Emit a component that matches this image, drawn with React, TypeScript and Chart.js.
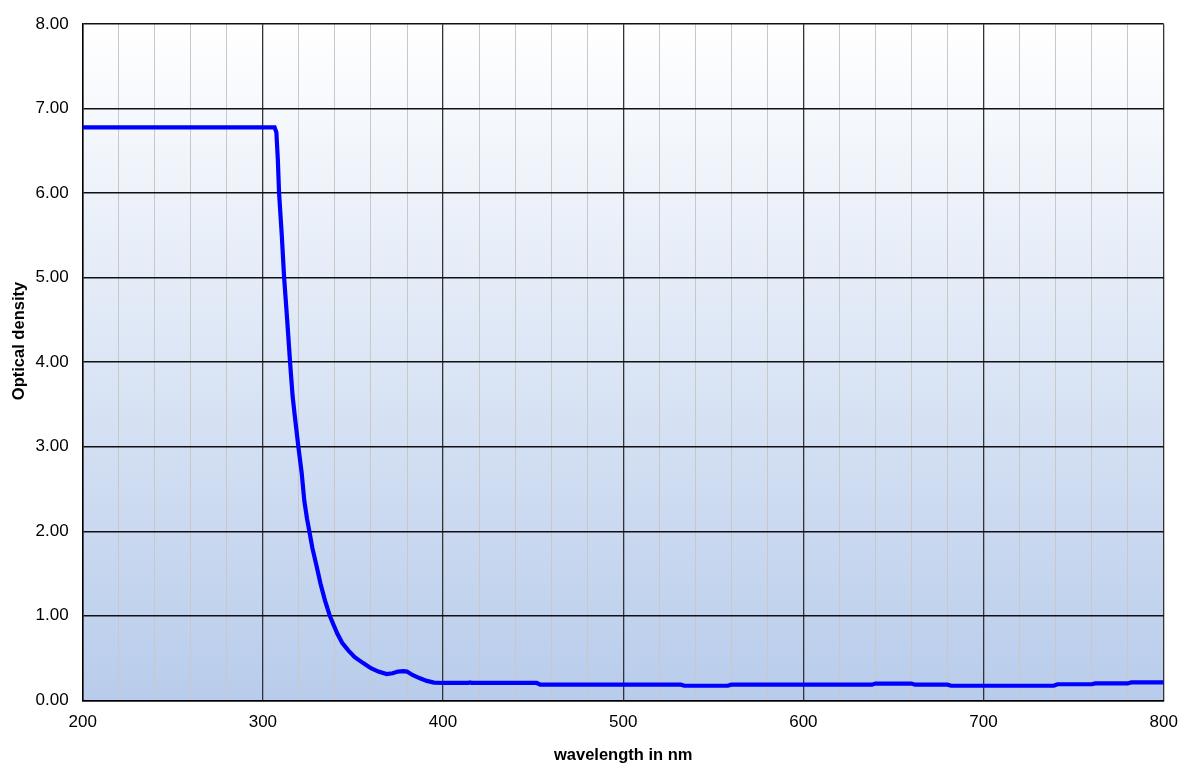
import React, { useEffect, useRef } from "react";
import { Chart, registerables } from "chart.js";

Chart.register(...registerables);

const wavelengths: number[] = [
  200, 306.5, 307.5, 308.3, 309, 310.5, 311.8, 313.5, 315.1, 316.5, 317.8, 319.7,
  321.5, 323, 324.5, 325.8, 327.5, 329.9, 332, 334.5, 337.3, 341.3, 344, 347.4,
  351, 355.7, 360, 364.1, 368.7, 372, 375, 378, 380, 383, 387.2, 391, 395, 400,
  414, 415, 416, 452, 454, 532, 534, 558, 560, 638, 640, 660, 662, 680, 682,
  739, 741, 760, 762, 780, 782, 800,
];
const opticalDensity: number[] = [
  6.78, 6.78, 6.72, 6.4, 6.0, 5.5, 5.0, 4.5, 4.0, 3.6, 3.35, 3.0,
  2.7, 2.36, 2.15, 2.0, 1.8, 1.58, 1.38, 1.18, 0.99, 0.79, 0.68, 0.59,
  0.51, 0.44, 0.38, 0.34, 0.31, 0.32, 0.34, 0.345, 0.34, 0.3, 0.26, 0.23, 0.21, 0.205,
  0.205, 0.212, 0.205, 0.205, 0.185, 0.185, 0.172, 0.172, 0.185, 0.185, 0.198, 0.198, 0.185, 0.185, 0.172,
  0.172, 0.19, 0.19, 0.2, 0.2, 0.212, 0.212,
];
const xTickLabels: number[] = [200, 300, 400, 500, 600, 700, 800];
const xTitle = "wavelength in nm";
const yTitle = "Optical density";

const W = 1186;
const H = 765;
const LEFT = 82.7;
const TOP = 21.7;
const RIGHT = 1163.7;
const BOTTOM = 700.3;

const bgPlugin = {
  id: "bgGradient",
  beforeDraw(chart: any) {
    const { ctx, chartArea } = chart;
    if (!chartArea) return;
    const g = ctx.createLinearGradient(0, chartArea.top, 0, chartArea.bottom);
    g.addColorStop(0, "#ffffff");
    g.addColorStop(1, "#b8cceb");
    ctx.save();
    ctx.fillStyle = g;
    ctx.fillRect(chartArea.left, chartArea.top, chartArea.right - chartArea.left, chartArea.bottom - chartArea.top);
    ctx.restore();
  },
};

const titlePlugin = {
  id: "axisTitles",
  afterDraw(chart: any) {
    const { ctx, chartArea } = chart;
    ctx.save();
    ctx.fillStyle = "#000";
    ctx.font = 'bold 16.5px "Liberation Sans", Arial, sans-serif';
    ctx.textAlign = "center";
    ctx.textBaseline = "middle";
    ctx.fillText(xTitle, (chartArea.left + chartArea.right) / 2, 755);
    ctx.translate(19, 341);
    ctx.rotate(-Math.PI / 2);
    ctx.fillText(yTitle, 0, 0);
    ctx.restore();
  },
};

export default function App() {
  const ref = useRef<HTMLCanvasElement | null>(null);
  useEffect(() => {
    if (!ref.current) return;
    const points = wavelengths.map((x, i) => ({ x, y: opticalDensity[i] }));
    const chart = new Chart(ref.current, {
      type: "line",
      data: {
        datasets: [
          {
            data: points,
            borderColor: "#0000ff",
            borderWidth: 4.2,
            pointRadius: 0,
            tension: 0,
            fill: false,
          },
        ],
      },
      options: {
        animation: false,
        responsive: true,
        maintainAspectRatio: false,
        layout: { padding: { left: 0, top: TOP, right: W - RIGHT, bottom: 0 } },
        plugins: { legend: { display: false }, tooltip: { enabled: false }, title: { display: false } },
        scales: {
          x: {
            type: "linear",
            min: 200,
            max: 800,
            afterFit: (s: any) => {
              s.height = H - BOTTOM;
            },
            afterBuildTicks: (s: any) => {
              const t = [];
              for (let v = 200; v <= 800; v += 20) t.push({ value: v });
              s.ticks = t;
            },
            ticks: {
              autoSkip: false,
              maxRotation: 0,
              padding: 0,
              color: "#000",
              font: { family: '"Liberation Sans", Arial, sans-serif', size: 17 },
              callback: (v: any) => (xTickLabels.includes(Number(v)) ? String(v) : ""),
            },
            grid: {
              drawTicks: true,
              tickLength: 12,
              tickColor: "rgba(0,0,0,0)",
              color: (c: any) => (c.tick && c.tick.value % 100 === 0 ? "#333333" : "#c8c8c8"),
              lineWidth: (c: any) => (c.tick && c.tick.value % 100 === 0 ? 1.3 : 1),
            },
            border: { display: true, color: "#000", width: 1.5 },
          },
          y: {
            min: 0,
            max: 8,
            afterFit: (s: any) => {
              s.width = LEFT;
            },
            ticks: {
              stepSize: 1,
              padding: 14,
              color: "#000",
              font: { family: '"Liberation Sans", Arial, sans-serif', size: 17 },
              callback: (v: any) => Number(v).toFixed(2),
            },
            grid: { drawTicks: false, color: "#111111", lineWidth: 1.5 },
            border: { display: true, color: "#000", width: 1.5 },
          },
        },
      },
      plugins: [bgPlugin, titlePlugin],
    });
    return () => chart.destroy();
  }, []);
  return (
    <div style={{ position: "fixed", left: 0, top: 0, width: W, height: H, background: "#fff" }}>
      <canvas ref={ref} />
    </div>
  );
}
